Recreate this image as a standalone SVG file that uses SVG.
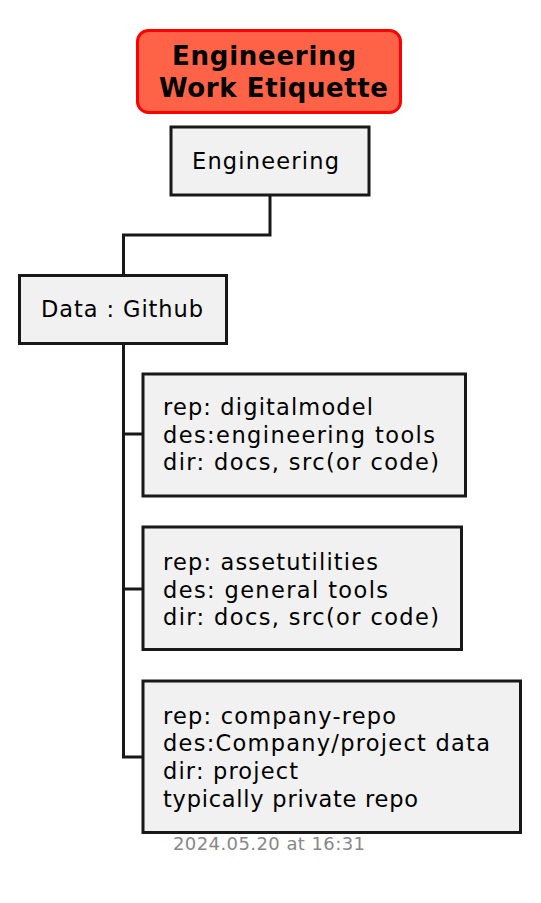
<svg xmlns="http://www.w3.org/2000/svg" width="541" height="903" viewBox="0 0 541 903">
<style>
.node{fill:#F1F1F1;stroke:#181818;stroke-width:3}
.t{font-family:"DejaVu Sans",Verdana,sans-serif;font-size:22.5px;fill:#000000}
.title{font-family:"DejaVu Sans",Verdana,sans-serif;font-size:26px;font-weight:bold;fill:#000000}
.conn{fill:none;stroke:#181818;stroke-width:3}
.foot{font-family:"DejaVu Sans",Verdana,sans-serif;font-size:18px;fill:#888888}
</style>
<rect width="541" height="903" fill="#FFFFFF"/>
<g id="title">
<rect x="137.5" y="30.5" width="263" height="82" rx="11" ry="11" fill="#FF6347" stroke="#FF0000" stroke-width="3"/>
<text class="title" x="172" y="65" textLength="184" lengthAdjust="spacing">Engineering</text>
<text class="title" x="159" y="97" textLength="229" lengthAdjust="spacing">Work Etiquette</text>
</g>
<g id="connectors">
<path class="conn" d="M270,196 V235 H123.5 V275"/>
<path class="conn" d="M123.5,344 V757 H143"/>
<path class="conn" d="M123.5,434 H143"/>
<path class="conn" d="M123.5,589 H143"/>
</g>
<g id="engineering">
<rect class="node" x="171" y="127" width="198" height="68"/>
<text class="t" x="192" y="169" textLength="147" lengthAdjust="spacing">Engineering</text>
</g>
<g id="data-github">
<rect class="node" x="19.5" y="275.5" width="207" height="68"/>
<text class="t" x="41" y="317" textLength="162" lengthAdjust="spacing">Data : Github</text>
</g>
<g id="digitalmodel">
<rect class="node" x="143" y="374" width="322.5" height="122"/>
<text class="t" x="163" y="414.5" textLength="210" lengthAdjust="spacing">rep: digitalmodel</text>
<text class="t" x="163" y="442.5" textLength="272" lengthAdjust="spacing">des:engineering tools</text>
<text class="t" x="163" y="470" textLength="276" lengthAdjust="spacing">dir: docs, src(or code)</text>
</g>
<g id="assetutilities">
<rect class="node" x="143" y="527" width="318.5" height="122.5"/>
<text class="t" x="163" y="569.5" textLength="215" lengthAdjust="spacing">rep: assetutilities</text>
<text class="t" x="163" y="597.5" textLength="225" lengthAdjust="spacing">des: general tools</text>
<text class="t" x="163" y="625" textLength="276" lengthAdjust="spacing">dir: docs, src(or code)</text>
</g>
<g id="company-repo">
<rect class="node" x="143" y="681" width="377.5" height="151.5"/>
<text class="t" x="163" y="723.5" textLength="233" lengthAdjust="spacing">rep: company-repo</text>
<text class="t" x="163" y="751" textLength="327" lengthAdjust="spacing">des:Company/project data</text>
<text class="t" x="163" y="779" textLength="135" lengthAdjust="spacing">dir: project</text>
<text class="t" x="163" y="806.5" textLength="255" lengthAdjust="spacing">typically private repo</text>
</g>
<text class="foot" x="173" y="850" textLength="192" lengthAdjust="spacing">2024.05.20 at 16:31</text>
</svg>
